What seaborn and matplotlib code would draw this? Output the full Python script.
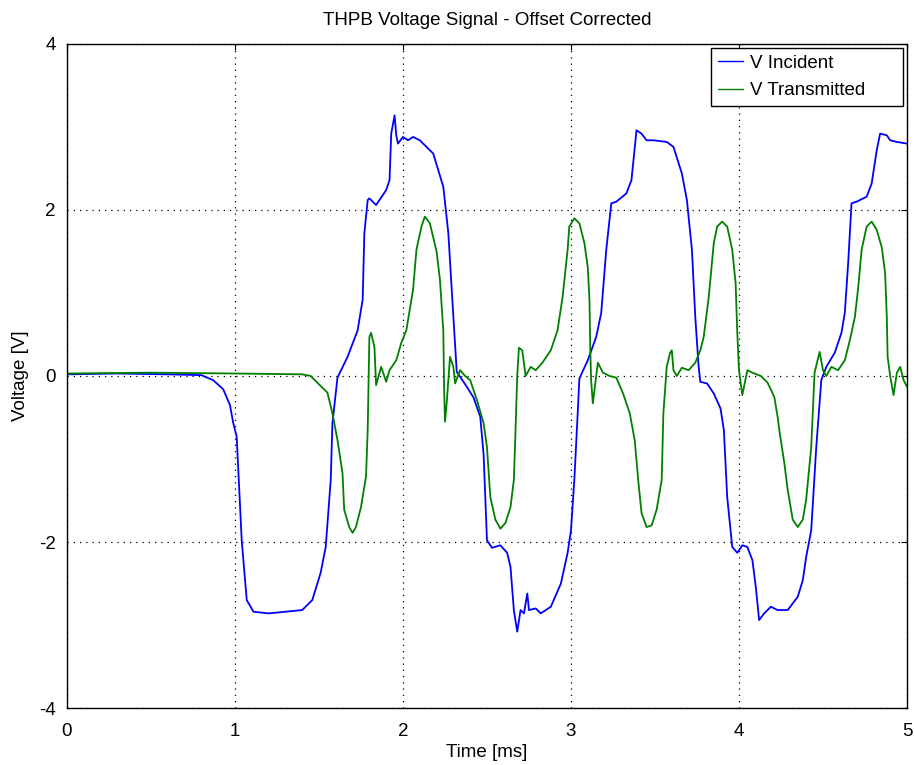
import numpy as np
import pandas as pd
import matplotlib
matplotlib.use("Agg")
import matplotlib.pyplot as plt
import seaborn as sns

# Incident bar voltage, time in ms / voltage in V
t_incident = [0.00, 0.30, 0.60, 0.80, 0.87, 0.93, 0.97, 0.99, 1.01, 1.04, 1.07, 1.11, 1.20, 1.30, 1.40,
              1.46, 1.51, 1.54, 1.57, 1.58, 1.61, 1.67, 1.73, 1.76, 1.77, 1.79, 1.80, 1.84, 1.90,
              1.92, 1.93, 1.95, 1.96, 1.97, 2.00, 2.03, 2.06, 2.10, 2.14, 2.18, 2.21, 2.24, 2.27,
              2.30, 2.32, 2.38, 2.42, 2.46, 2.48, 2.50, 2.53, 2.58, 2.62, 2.64, 2.66, 2.68, 2.70,
              2.72, 2.74, 2.75, 2.79, 2.82, 2.88, 2.94, 2.98, 3.00, 3.02, 3.04, 3.05, 3.10, 3.15,
              3.18, 3.21, 3.24, 3.27, 3.33, 3.36, 3.39, 3.42, 3.45, 3.49, 3.57, 3.61, 3.66, 3.69,
              3.72, 3.74, 3.76, 3.77, 3.81, 3.85, 3.89, 3.91, 3.93, 3.96, 3.99, 4.02, 4.05, 4.08,
              4.10, 4.12, 4.15, 4.19, 4.23, 4.29, 4.35, 4.38, 4.40, 4.43, 4.46, 4.49, 4.52, 4.57,
              4.61, 4.63, 4.65, 4.67, 4.70, 4.76, 4.79, 4.82, 4.84, 4.88, 4.90, 4.94, 5.00]
v_incident = [0.02, 0.03, 0.02, 0.01, -0.05, -0.16, -0.35, -0.57, -0.73, -1.98, -2.70, -2.84, -2.86, -2.84, -2.82,
              -2.70, -2.37, -2.06, -1.25, -0.57, -0.02, 0.23, 0.55, 0.92, 1.72, 2.12, 2.14, 2.06, 2.24,
              2.36, 2.92, 3.14, 2.90, 2.80, 2.88, 2.84, 2.88, 2.84, 2.76, 2.68, 2.48, 2.28, 1.72,
              0.71, 0.05, -0.13, -0.26, -0.49, -0.95, -1.98, -2.07, -2.04, -2.13, -2.30, -2.82, -3.08, -2.82,
              -2.86, -2.62, -2.82, -2.80, -2.86, -2.78, -2.50, -2.13, -1.86, -1.25, -0.45, -0.03, 0.19, 0.47,
              0.76, 1.52, 2.08, 2.10, 2.20, 2.36, 2.96, 2.92, 2.84, 2.84, 2.82, 2.76, 2.44, 2.12,
              1.52, 0.71, 0.11, -0.07, -0.09, -0.21, -0.39, -0.65, -1.46, -2.06, -2.13, -2.04, -2.06, -2.22,
              -2.54, -2.94, -2.86, -2.78, -2.82, -2.82, -2.66, -2.46, -2.18, -1.86, -0.86, -0.05, 0.11, 0.28,
              0.52, 0.76, 1.36, 2.08, 2.10, 2.16, 2.32, 2.72, 2.92, 2.90, 2.84, 2.82, 2.80]

# Transmitted bar voltage
t_transmitted = [0.00, 0.50, 1.00, 1.40, 1.45, 1.50, 1.55, 1.58, 1.61, 1.64, 1.65, 1.68, 1.70, 1.72,
                 1.75, 1.78, 1.79, 1.80, 1.81, 1.83, 1.84, 1.87, 1.90, 1.92, 1.96, 1.99, 2.02, 2.06,
                 2.08, 2.11, 2.13, 2.16, 2.20, 2.22, 2.24, 2.245, 2.25, 2.26, 2.28, 2.30, 2.31, 2.34,
                 2.37, 2.40, 2.44, 2.48, 2.50, 2.52, 2.55, 2.58, 2.61, 2.64, 2.66, 2.67, 2.68, 2.69,
                 2.71, 2.73, 2.76, 2.79, 2.83, 2.88, 2.92, 2.95, 2.98, 2.99, 3.02, 3.05, 3.08, 3.10,
                 3.11, 3.115, 3.12, 3.13, 3.14, 3.16, 3.19, 3.23, 3.27, 3.31, 3.35, 3.38, 3.40, 3.42,
                 3.45, 3.48, 3.51, 3.54, 3.55, 3.57, 3.59, 3.60, 3.61, 3.63, 3.66, 3.70, 3.74, 3.77,
                 3.79, 3.82, 3.85, 3.87, 3.90, 3.93, 3.96, 3.98, 3.99, 4.00, 4.01, 4.02, 4.05, 4.08,
                 4.13, 4.17, 4.21, 4.23, 4.24, 4.27, 4.29, 4.32, 4.35, 4.38, 4.40, 4.43, 4.45, 4.48,
                 4.50, 4.52, 4.55, 4.59, 4.63, 4.66, 4.69, 4.71, 4.73, 4.76, 4.79, 4.82, 4.85, 4.87,
                 4.88, 4.885, 4.90, 4.92, 4.94, 4.96, 4.98, 5.00]
v_transmitted = [0.03, 0.04, 0.03, 0.02, 0.00, -0.10, -0.20, -0.45, -0.77, -1.17, -1.61, -1.82, -1.89, -1.82,
                 -1.58, -1.21, -0.65, 0.47, 0.52, 0.35, -0.11, 0.11, -0.07, 0.07, 0.19, 0.40, 0.55, 1.04,
                 1.52, 1.80, 1.92, 1.84, 1.50, 1.16, 0.55, -0.17, -0.55, -0.33, 0.23, 0.11, -0.09, 0.07,
                 0.00, -0.05, -0.29, -0.57, -0.86, -1.46, -1.73, -1.84, -1.77, -1.58, -1.25, -0.65, 0.00, 0.34,
                 0.31, 0.00, 0.11, 0.07, 0.16, 0.31, 0.55, 0.95, 1.52, 1.80, 1.90, 1.84, 1.60, 1.31,
                 0.92, 0.31, -0.05, -0.33, -0.17, 0.16, 0.04, 0.00, -0.02, -0.21, -0.45, -0.78, -1.25, -1.65,
                 -1.82, -1.80, -1.61, -1.25, -0.45, 0.11, 0.28, 0.31, 0.07, 0.00, 0.10, 0.07, 0.16, 0.31,
                 0.47, 0.95, 1.60, 1.80, 1.86, 1.80, 1.52, 1.12, 0.52, 0.07, -0.08, -0.23, 0.07, 0.04,
                 0.00, -0.08, -0.25, -0.49, -0.65, -1.05, -1.37, -1.73, -1.82, -1.73, -1.49, -0.86, 0.04, 0.29,
                 0.07, 0.00, 0.11, 0.07, 0.19, 0.43, 0.71, 1.07, 1.52, 1.80, 1.86, 1.76, 1.55, 1.24,
                 0.71, 0.23, 0.00, -0.23, 0.04, 0.11, -0.05, -0.13]

labels = ["V Incident", "V Transmitted"]
colors = ["#0000ff", "#008000"]
x_ticks = [0, 1, 2, 3, 4, 5]
y_ticks = [-4, -2, 0, 2, 4]

df = pd.concat([
    pd.DataFrame({"Time": t_incident, "Voltage": v_incident, "Signal": labels[0]}),
    pd.DataFrame({"Time": t_transmitted, "Voltage": v_transmitted, "Signal": labels[1]}),
], ignore_index=True)

sns.set_style("white")
plt.rcParams["font.family"] = ["Liberation Sans", "DejaVu Sans"]
plt.rcParams["text.color"] = "black"
plt.rcParams["axes.labelcolor"] = "black"
FS = 13.5

fig = plt.figure(figsize=(9.14, 7.65), dpi=100)
ax = fig.add_axes([0.0733, 0.0745, 0.919, 0.868])

sns.lineplot(data=df, x="Time", y="Voltage", hue="Signal", hue_order=labels,
             palette=dict(zip(labels, colors)), estimator=None, sort=False,
             linewidth=1.3, ax=ax)

ax.set_xlim(0, 5)
ax.set_ylim(-4, 4)
ax.set_xticks(x_ticks)
ax.set_yticks(y_ticks)
ax.set_xticklabels([str(v) for v in x_ticks], fontsize=FS)
ax.set_yticklabels([str(v) for v in y_ticks], fontsize=FS)
ax.tick_params(direction="in", top=True, right=True, length=4, width=0.8, colors="black")
ax.tick_params(axis="x", pad=11)
ax.tick_params(axis="y", pad=8)
ax.grid(True, linestyle=(0, (1, 4)), color="black", linewidth=0.9)
for s in ax.spines.values():
    s.set_color("black")
    s.set_linewidth(1.0)

ax.set_title("THPB Voltage Signal - Offset Corrected", fontsize=FS, pad=14, color="black")
ax.set_xlabel("Time [ms]", fontsize=FS, labelpad=3)
ax.set_ylabel("Voltage [V]", fontsize=FS, labelpad=7)

# legend box stretched across the top-right corner, entries left-aligned
handles, labs = ax.get_legend_handles_labels()
leg = ax.legend(handles, labs, loc="upper left", bbox_to_anchor=(0.7667, 0.5, 0.2286, 0.494),
                mode="expand", borderaxespad=0, fontsize=FS, frameon=True, fancybox=False,
                edgecolor="black", handlelength=1.35, handletextpad=0.4,
                borderpad=0.35, labelspacing=0.55, framealpha=1)
leg.get_frame().set_linewidth(1.0)
for h in leg.get_lines():
    h.set_linewidth(1.0)
for txt in leg.get_texts():
    txt.set_color("black")

fig.savefig("out.png", dpi=100)
